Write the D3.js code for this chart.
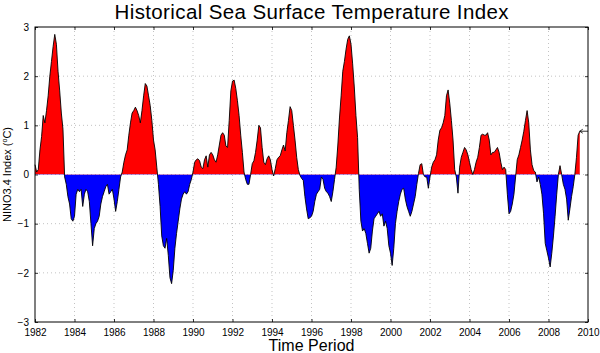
<!DOCTYPE html>
<html>
<head>
<meta charset="utf-8">
<script src="https://cdn.jsdelivr.net/npm/d3@7"></script>
<style>
    body { margin: 0; background: #ffffff; }
    svg text { font-family: "Liberation Sans", Arial, sans-serif; fill: #000; }
</style>
</head>
<body>
<script>
// 月度 NINO3.4 指数，自 1982 年 1 月起
const startYear = 1982;
const nino1982to1989 = [
    0.2, 0.05, 0.1, 0.5, 0.77, 1.2, 1.05, 1.3, 1.6, 2.0, 2.3, 2.6,
    2.85, 2.65, 2.1, 1.7, 1.25, 0.92, -0.05, -0.2, -0.45, -0.6, -0.9, -0.95,
    -0.85, -0.4, -0.3, -0.35, -0.3, -0.65, -0.4, -0.3, -0.35, -0.55, -1.0, -1.45,
    -1.1, -1.0, -0.95, -0.85, -0.6, -0.45, -0.35, -0.25, -0.2, -0.4, -0.35, -0.3,
    -0.5, -0.75, -0.55, -0.3, -0.05, 0.05, 0.25, 0.4, 0.5, 0.8, 1.05, 1.25,
    1.3, 1.37, 1.3, 1.2, 1.05, 1.3, 1.6, 1.85, 1.8, 1.6, 1.4, 1.1,
    0.7, 0.5, 0.15, -0.2, -0.65, -1.25, -1.45, -1.5, -1.3, -1.65, -2.1, -2.22,
    -1.95, -1.5, -1.2, -0.95, -0.7, -0.5, -0.4, -0.35, -0.4, -0.35, -0.2, -0.1
];
const nino1990to1999 = [
    0.05, 0.25, 0.3, 0.32, 0.28, 0.15, 0.12, 0.3, 0.38, 0.15, 0.4, 0.45,
    0.4, 0.3, 0.25, 0.4, 0.6, 0.8, 0.85, 0.8, 0.58, 0.55, 1.1, 1.7,
    1.9, 1.92, 1.75, 1.5, 1.2, 0.8, 0.45, 0.05, -0.1, -0.2, -0.2, 0.0,
    0.22, 0.28, 0.45, 0.7, 1.0, 0.95, 0.55, 0.25, 0.2, 0.32, 0.38, 0.3,
    0.1, -0.03, 0.12, 0.3, 0.35, 0.38, 0.5, 0.6, 0.48, 0.85, 1.1, 1.38,
    1.3, 1.0, 0.7, 0.35, 0.1, -0.02, -0.08, -0.12, -0.45, -0.7, -0.9, -0.88,
    -0.85, -0.75, -0.55, -0.4, -0.35, -0.3, -0.05, -0.1, -0.28, -0.35, -0.38, -0.45,
    -0.55, -0.35, -0.1, 0.15, 0.6, 1.15, 1.6, 2.1, 2.3, 2.55, 2.75, 2.82,
    2.65, 2.25, 1.78, 1.2, 0.75, -0.3, -0.95, -1.15, -1.1, -1.2, -1.4, -1.6,
    -1.5, -1.15, -0.9, -0.85, -0.8, -0.75, -0.85, -0.8, -1.05, -0.95, -1.1, -1.45
];
const nino2000to2009 = [
    -1.6, -1.85, -1.5, -1.0, -0.75, -0.55, -0.4, -0.3, -0.28, -0.5, -0.65, -0.75,
    -0.85, -0.75, -0.6, -0.45, -0.2, 0.02, 0.2, 0.22, 0.0, -0.05, -0.05, -0.28,
    -0.05, 0.15, 0.25, 0.3, 0.4, 0.7, 0.9, 0.95, 1.05, 1.2, 1.6, 1.72,
    1.45, 1.1, 0.7, 0.1, -0.05, -0.38, 0.15, 0.35, 0.45, 0.55, 0.5, 0.4,
    0.25, 0.1, 0.0, 0.1, 0.25, 0.35, 0.55, 0.8, 0.82, 0.8, 0.8, 0.85,
    0.7, 0.4, 0.45, 0.45, 0.5, 0.55, 0.45, 0.25, 0.1, 0.15, 0.1, -0.4,
    -0.8, -0.75, -0.6, -0.4, -0.05, 0.3, 0.4, 0.55, 0.7, 0.88, 1.1, 1.3,
    1.05, 0.5, 0.2, 0.08, 0.05, -0.15, -0.05, -0.2, -0.4, -0.8, -1.4, -1.55,
    -1.7, -1.88, -1.6, -1.25, -0.85, -0.4, 0.0, 0.18, 0.0, -0.2, -0.3, -0.5,
    -0.93, -0.7, -0.45, -0.25, 0.0, 0.35, 0.8, 0.88
];

// 刻度
const yearTicks = [1982, 1984, 1986, 1988, 1990, 1992, 1994, 1996, 1998, 2000, 2002, 2004, 2006, 2008, 2010];
const indexTicks = [-3, -2, -1, 0, 1, 2, 3];

const titleText = 'Historical Sea Surface Temperature Index';
const xLabelText = 'Time Period';

const renderChart = () => {
    let svgWidth = 600, svgHeight = 353;
    let plot = {left: 35, right: 588, top: 27, bottom: 322};

    let values = nino1982to1989.concat(nino1990to1999, nino2000to2009);
    let data = values.map((v, i) => ({t: startYear + i / 12, v: v}));

    let svg = d3.select('body')
        .append('svg')
        .attr('width', svgWidth)
        .attr('height', svgHeight);

    let x = d3.scaleLinear()
        .domain([yearTicks[0], yearTicks[yearTicks.length - 1]])
        .range([plot.left, plot.right]);
    let y = d3.scaleLinear()
        .domain([indexTicks[0], indexTicks[indexTicks.length - 1]])
        .range([plot.bottom, plot.top]);

    // 网格线
    let grid = svg.append('g').attr('class', 'grid')
        .attr('stroke', '#b4b4b4')
        .attr('stroke-width', 0.8)
        .attr('stroke-dasharray', '1,3');
    grid.selectAll('.gx')
        .data(yearTicks.slice(1, -1))
        .enter()
        .append('line')
        .attr('x1', d => x(d)).attr('x2', d => x(d))
        .attr('y1', plot.top).attr('y2', plot.bottom);
    grid.selectAll('.gy')
        .data(indexTicks.slice(1, -1))
        .enter()
        .append('line')
        .attr('y1', d => y(d)).attr('y2', d => y(d))
        .attr('x1', plot.left).attr('x2', plot.right);

    // 零线上下分色填充
    let defs = svg.append('defs');
    defs.append('clipPath').attr('id', 'clipPos')
        .append('rect')
        .attr('x', plot.left).attr('y', plot.top)
        .attr('width', plot.right - plot.left)
        .attr('height', y(0) - plot.top);
    defs.append('clipPath').attr('id', 'clipNeg')
        .append('rect')
        .attr('x', plot.left).attr('y', y(0))
        .attr('width', plot.right - plot.left)
        .attr('height', plot.bottom - y(0));

    let area = d3.area()
        .x(d => x(d.t))
        .y0(y(0))
        .y1(d => y(d.v));
    svg.append('path')
        .datum(data)
        .attr('clip-path', 'url(#clipPos)')
        .attr('fill', '#ff0000')
        .attr('d', area);
    svg.append('path')
        .datum(data)
        .attr('clip-path', 'url(#clipNeg)')
        .attr('fill', '#0000ff')
        .attr('d', area);

    let line = d3.line()
        .x(d => x(d.t))
        .y(d => y(d.v));
    svg.append('path')
        .datum(data)
        .attr('fill', 'none')
        .attr('stroke', '#000')
        .attr('stroke-width', 0.9)
        .attr('stroke-linejoin', 'round')
        .attr('d', line);

    // 末端标记
    let last = data[data.length - 1];
    let lx = x(last.t), ly = y(last.v);
    svg.append('path')
        .attr('fill', 'none')
        .attr('stroke', '#000')
        .attr('stroke-width', 0.8)
        .attr('d', `M ${plot.right} ${ly} L ${lx} ${ly} M ${lx + 3} ${ly - 2} L ${lx} ${ly} L ${lx + 3} ${ly + 2}`);

    // 坐标轴
    let axisFont = g => g.selectAll('text')
        .style('font-size', '10px')
        .style('font-family', '"Liberation Sans", Arial, sans-serif');
    let axisLine = g => {
        g.select('.domain').remove();
        g.selectAll('line').attr('stroke', '#000').attr('stroke-width', 0.8);
    };

    svg.append('g')
        .attr('transform', `translate(0,${plot.bottom})`)
        .call(d3.axisBottom(x).tickValues(yearTicks).tickFormat(d3.format('d'))
            .tickSizeInner(-3).tickSizeOuter(0).tickPadding(7))
        .call(axisLine)
        .call(axisFont);
    svg.append('g')
        .attr('transform', `translate(0,${plot.top})`)
        .call(d3.axisTop(x).tickValues(yearTicks).tickFormat('')
            .tickSizeInner(-3).tickSizeOuter(0))
        .call(axisLine);
    svg.append('g')
        .attr('transform', `translate(${plot.left},0)`)
        .call(d3.axisLeft(y).tickValues(indexTicks).tickFormat(d3.format('d'))
            .tickSizeInner(-3).tickSizeOuter(0).tickPadding(6))
        .call(axisLine)
        .call(axisFont);
    svg.append('g')
        .attr('transform', `translate(${plot.right},0)`)
        .call(d3.axisRight(y).tickValues(indexTicks).tickFormat('')
            .tickSizeInner(-3).tickSizeOuter(0))
        .call(axisLine);

    // 边框
    svg.append('rect')
        .attr('x', plot.left).attr('y', plot.top)
        .attr('width', plot.right - plot.left)
        .attr('height', plot.bottom - plot.top)
        .attr('fill', 'none')
        .attr('stroke', '#000')
        .attr('stroke-width', 1);

    // 标题与轴标签
    svg.append('text')
        .attr('x', (plot.left + plot.right) / 2)
        .attr('y', 19)
        .attr('text-anchor', 'middle')
        .attr('textLength', 394)
        .attr('lengthAdjust', 'spacing')
        .style('font-size', '20.5px')
        .text(titleText);
    svg.append('text')
        .attr('x', (plot.left + plot.right) / 2)
        .attr('y', 351)
        .attr('text-anchor', 'middle')
        .attr('textLength', 86)
        .attr('lengthAdjust', 'spacing')
        .style('font-size', '16px')
        .text(xLabelText);
    let yLabel = svg.append('text')
        .attr('transform', `translate(11,${y(0)}) rotate(-90)`)
        .attr('text-anchor', 'middle')
        .style('font-size', '11px');
    yLabel.append('tspan').text('NINO3.4 Index (');
    yLabel.append('tspan').attr('dy', -4).style('font-size', '7px').text('o');
    yLabel.append('tspan').attr('dy', 4).text('C)');
};

renderChart();
</script>
</body>
</html>
